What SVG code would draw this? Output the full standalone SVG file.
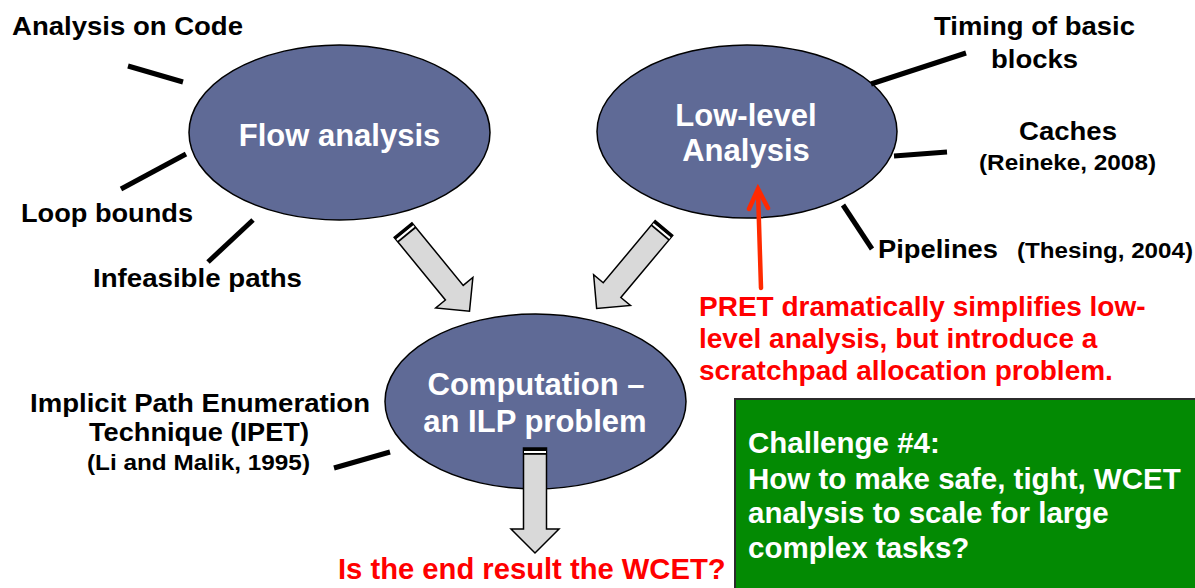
<svg xmlns="http://www.w3.org/2000/svg" width="1195" height="588" viewBox="0 0 1195 588">
<defs>
<style>
.node{fill:#5f6a96;stroke:#000;stroke-width:1.5}
.wt{font-family:"Liberation Sans",Arial,sans-serif;font-weight:bold;fill:#fff;font-size:31px;text-anchor:middle}
.bt{font-family:"Liberation Sans",Arial,sans-serif;font-weight:bold;fill:#000;font-size:25px}
.bs{font-family:"Liberation Sans",Arial,sans-serif;font-weight:bold;fill:#000;font-size:21.5px}
.rt{font-family:"Liberation Sans",Arial,sans-serif;font-weight:bold;fill:#ff0000;font-size:28px}
.gt{font-family:"Liberation Sans",Arial,sans-serif;font-weight:bold;fill:#fff;font-size:29.5px}
.tick{stroke:#000;stroke-width:5;stroke-linecap:butt}
.blk{fill:#d9d9d9;stroke:#000;stroke-width:1.5;stroke-linejoin:miter}
</style>
<g id="blockarrow">
<path class="blk" d="M0,-11.5 L81,-11.5 L81,-24 L105,0 L81,24 L81,11.5 L0,11.5 Z"/>
<rect x="0" y="-11.5" width="3" height="23" fill="#000"/>
<rect x="3" y="-11" width="2" height="22" fill="#fff"/>
<rect x="5" y="-11.5" width="1.8" height="23" fill="#000"/>
</g>
</defs>
<rect width="1195" height="588" fill="#fff"/>

<g id="flow">
<ellipse class="node" cx="339.5" cy="132.5" rx="150.5" ry="87.5"/>
<text class="wt" x="339.5" y="146">Flow analysis</text>
</g>

<g id="lowlevel">
<ellipse class="node" cx="747" cy="131.5" rx="150" ry="86.5"/>
<text class="wt" x="746" y="126">Low-level</text>
<text class="wt" x="746" y="161">Analysis</text>
</g>

<g id="computation">
<ellipse class="node" cx="535.5" cy="401.5" rx="150.5" ry="87.5"/>
<text class="wt" x="536" y="395">Computation –</text>
<text class="wt" x="535" y="432">an ILP problem</text>
</g>

<g id="labels">
<text class="bt" x="12" y="35" textLength="231" lengthAdjust="spacingAndGlyphs">Analysis on Code</text>
<text class="bt" x="21" y="222" textLength="172" lengthAdjust="spacingAndGlyphs">Loop bounds</text>
<text class="bt" x="93" y="287" textLength="209" lengthAdjust="spacingAndGlyphs">Infeasible paths</text>
<text class="bt" x="934" y="35" textLength="201" lengthAdjust="spacingAndGlyphs">Timing of basic</text>
<text class="bt" x="991" y="68" textLength="87" lengthAdjust="spacingAndGlyphs">blocks</text>
<text class="bt" x="1019" y="140" textLength="98" lengthAdjust="spacingAndGlyphs">Caches</text>
<text class="bs" x="979" y="170" textLength="177" lengthAdjust="spacingAndGlyphs">(Reineke, 2008)</text>
<text class="bt" x="878" y="258" textLength="120" lengthAdjust="spacingAndGlyphs">Pipelines</text>
<text class="bs" x="1017" y="258" textLength="176" lengthAdjust="spacingAndGlyphs">(Thesing, 2004)</text>
<text class="bt" x="30" y="412" textLength="340" lengthAdjust="spacingAndGlyphs">Implicit Path Enumeration</text>
<text class="bt" x="89" y="441" textLength="220" lengthAdjust="spacingAndGlyphs">Technique (IPET)</text>
<text class="bs" x="87" y="470" textLength="223" lengthAdjust="spacingAndGlyphs">(Li and Malik, 1995)</text>
</g>

<g id="pret">
<text class="rt" x="699" y="316">PRET dramatically simplifies low-</text>
<text class="rt" x="699" y="348">level analysis, but introduce a</text>
<text class="rt" x="699" y="380">scratchpad allocation problem.</text>
</g>

<g id="result">
<text class="rt" x="338" y="579" style="font-size:29.2px">Is the end result the WCET?</text>
</g>

<g id="challenge">
<rect x="735" y="399" width="470" height="200" fill="#038a03" stroke="#2b2b2b" stroke-width="2"/>
<text class="gt" x="748" y="453">Challenge #4:</text>
<text class="gt" x="748" y="489">How to make safe, tight, WCET</text>
<text class="gt" x="748" y="523">analysis to scale for large</text>
<text class="gt" x="748" y="558">complex tasks?</text>
</g>

<g id="connectors">
<line class="tick" x1="128" y1="66" x2="183" y2="82"/>
<line class="tick" x1="121" y1="189" x2="186" y2="154"/>
<line class="tick" x1="208" y1="262" x2="253" y2="220"/>
<line class="tick" x1="871" y1="84" x2="966" y2="53"/>
<line class="tick" x1="894" y1="156" x2="947" y2="152"/>
<line class="tick" x1="843" y1="205" x2="872" y2="249"/>
<line class="tick" x1="334" y1="468" x2="390" y2="452"/>
<use href="#blockarrow" transform="translate(403,230) rotate(50.7)"/>
<use href="#blockarrow" transform="translate(664,228) rotate(129.9)"/>
<use href="#blockarrow" transform="translate(535,448) rotate(90)"/>
<g stroke="#ff2a00" stroke-width="4.5" fill="none" stroke-linecap="round">
<line x1="761" y1="288" x2="758" y2="191"/>
<polyline points="749,209 758,189 768,208"/>
</g>
</g>
</svg>
